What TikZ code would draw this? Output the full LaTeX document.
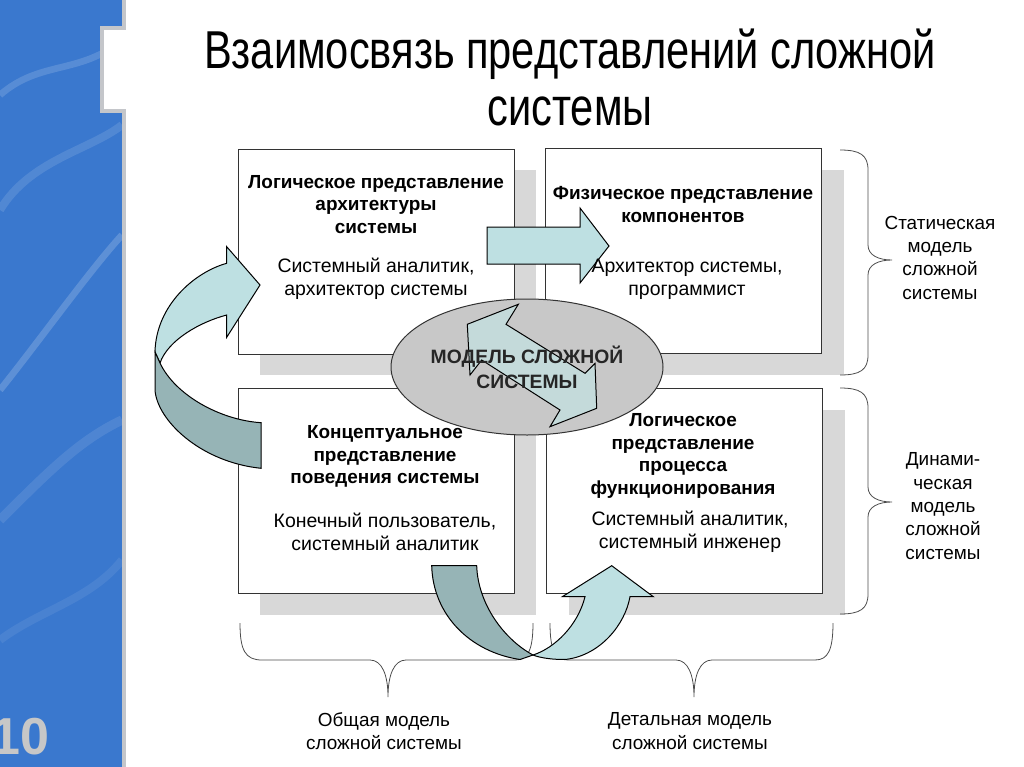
\documentclass[tikz,border=0pt]{standalone}
\usepackage{fontspec}
\setmainfont{Liberation Sans}
\newfontfamily\titlefont[FakeStretch=0.78]{Liberation Sans}
\usetikzlibrary{positioning,shadows,shapes.geometric}

\definecolor{bandblue}{RGB}{58,120,206}
\definecolor{rimgray}{RGB}{196,198,202}
\definecolor{shadegray}{RGB}{216,216,216}
\definecolor{ribbonlight}{RGB}{190,224,226}
\definecolor{ribbondark}{RGB}{150,180,182}
\definecolor{ovalgray}{RGB}{200,200,200}
\definecolor{zigzag}{RGB}{196,218,218}

\tikzset{
  panel/.style={draw=black!80, line width=0.75pt, fill=white, inner sep=0pt,
    minimum width=207pt, minimum height=153.75pt,
    drop shadow={shadow xshift=16.5pt, shadow yshift=-15.75pt, fill=shadegray, opacity=1}},
  headtxt/.style={align=center, font=\fontsize{14.2}{17}\selectfont\bfseries},
  roletxt/.style={align=center, font=\fontsize{14.6}{17.25}\selectfont},
  sidetxt/.style={align=center, font=\fontsize{14.2}{17.5}\selectfont},
  bracket/.style={draw=black!70, line width=0.6pt},
  ribbon/.style={draw=black, line width=0.75pt}
}

\begin{document}
\begin{tikzpicture}[x=0.75pt, y=-0.75pt]
    \useasboundingbox (0,0) rectangle (1024,767);

    \fill[bandblue] (0,0) rectangle (122,767);
    \draw[white, opacity=0.15, line width=5pt] (0,95) .. controls (40,60) and (80,75) .. (122,40);
    \draw[white, opacity=0.12, line width=6pt] (0,210) .. controls (30,160) and (90,150) .. (122,125);
    \draw[white, opacity=0.18, line width=5pt] (0,390) .. controls (40,340) and (90,270) .. (122,235);
    \draw[white, opacity=0.10, line width=7pt] (0,520) .. controls (50,470) and (80,440) .. (122,420);
    \draw[white, opacity=0.08, line width=6pt] (0,640) .. controls (40,610) and (90,600) .. (122,560);
    \fill[white] (101.5,28) rectangle (126,111);
    \draw[rimgray, line width=3pt] (124,0) -- (124,28) -- (101.5,28) -- (101.5,111) -- (124,111) -- (124,767);
    \node[anchor=east, inner sep=0pt, text=black!22, font=\fontsize{39}{39}\selectfont\bfseries] (slideno) at (50,737) {10};

    \node[font=\titlefont\fontsize{40}{42.75}\selectfont, align=center] (title) at (570,77)
        {Взаимосвязь представлений сложной\\системы};

    \node[panel] (logarch) at (376,251.5) {};
    \node[panel] (physcomp) at (683.5,251) {};
    \node[panel] (concbeh) at (376,491) {};
    \node[panel] (logproc) at (684.5,491) {};

    \draw[bracket] (840,150) .. controls (860,150) and (868,155) .. (868,170) -- (868,245)
        .. controls (868,255) and (878,260) .. (892,260) .. controls (878,260) and (868,265) .. (868,275)
        -- (868,355) .. controls (868,370) and (860,375) .. (840,375);
    \draw[bracket] (840,388) .. controls (860,388) and (868,393) .. (868,408) -- (868,487)
        .. controls (868,497) and (878,502) .. (892,502) .. controls (878,502) and (868,507) .. (868,517)
        -- (868,594) .. controls (868,609) and (860,614) .. (840,614);
    \draw[bracket] (240,623) .. controls (240,650) and (245,660) .. (262,660) -- (370,660)
        .. controls (382,660) and (388,675) .. (388,697) .. controls (388,675) and (394,660) .. (406,660)
        -- (515,660) .. controls (528,660) and (533,650) .. (533,623);
    \draw[bracket] (550,623) .. controls (550,650) and (555,660) .. (568,660) -- (676,660)
        .. controls (688,660) and (694,675) .. (694,697) .. controls (694,675) and (700,660) .. (712,660)
        -- (815,660) .. controls (828,660) and (833,650) .. (833,623);

    \filldraw[ribbon, fill=ribbonlight] (487,227) -- (580,227) -- (580,208) -- (609,246)
        -- (580,283) -- (580,264) -- (487,264) -- cycle;

    \filldraw[ribbon, fill=ribbonlight] (226.7,263.3) -- (226.7,246.7) -- (260,285) -- (226.7,337.3)
        -- (226.7,315) .. controls (200,322) and (168,340) .. (160,363) -- (155,352)
        .. controls (156,305) and (195,272) .. (226.7,263.3) -- cycle;
    \filldraw[ribbon, fill=ribbondark] (155,352) -- (155,390) .. controls (157,420) and (200,462) .. (261,468.3)
        -- (261,422.7) .. controls (220,420) and (175,395) .. (160,363) -- cycle;

    \filldraw[ribbon, fill=ribbondark] (431.7,565.7) -- (476.7,565.7) .. controls (478,605) and (505,640) .. (533,655)
        -- (520,659.5) .. controls (470,652) and (433,615) .. (431.7,565.7) -- cycle;
    \filldraw[ribbon, fill=ribbonlight] (585,596.7) -- (562.3,596.7) -- (611.7,565.7) -- (653.3,596.7)
        -- (630,596.7) .. controls (625,625) and (600,655) .. (566.7,659.3)
        .. controls (555,660) and (540,658) .. (533,655) .. controls (555,648) and (578,625) .. (585,596.7) -- cycle;

    \node[headtxt] (logarchhead) at (376,204.5) {Логическое представление\\архитектуры\\системы};
    \node[roletxt] (logarchrole) at (376,278.5) {Системный аналитик,\\архитектор системы};
    \node[headtxt] (physcomphead) at (683,204.5) {Физическое представление\\компонентов};
    \node[roletxt] (physcomprole) at (687,279.5) {Архитектор системы,\\программист};
    \node[headtxt] (concbehhead) at (385,456.5) {Концептуальное\\представление\\поведения системы};
    \node[roletxt] (concbehrole) at (385,531.5) {Конечный пользователь,\\системный аналитик};
    \node[headtxt] (logprochead) at (683,456) {Логическое\\представление\\процесса\\функционирования};
    \node[roletxt] (logprocrole) at (690,531.5) {Системный аналитик,\\системный инженер};

    \node[sidetxt] (staticmod) at (940,257.5) {Статическая\\модель\\сложной\\системы};
    \node[sidetxt] (dynmod) at (943,506) {Динами-\\ческая\\модель\\сложной\\системы};
    \node[sidetxt] (generalmod) at (384,731) {Общая модель\\сложной системы};
    \node[sidetxt] (detailmod) at (690,731) {Детальная модель\\сложной системы};

    \node[ellipse, draw=black!80, fill=ovalgray, line width=0.75pt, minimum width=204pt, minimum height=102pt] (oval) at (527,367) {};
    \filldraw[ribbon, fill=zigzag] (467.3,324.3) -- (518.3,304.3) -- (506,324.3) -- (585,373.3) -- (595,363.3)
        -- (596.7,408.3) -- (550,426.7) -- (560,410) -- (481.7,360) -- (470,375) -- cycle;
    \node[font=\fontsize{14.5}{18.75}\selectfont\bfseries, text=black!85, align=center] (ovaltxt) at (oval.center)
        {МОДЕЛЬ СЛОЖНОЙ\\СИСТЕМЫ};
\end{tikzpicture}
\end{document}
